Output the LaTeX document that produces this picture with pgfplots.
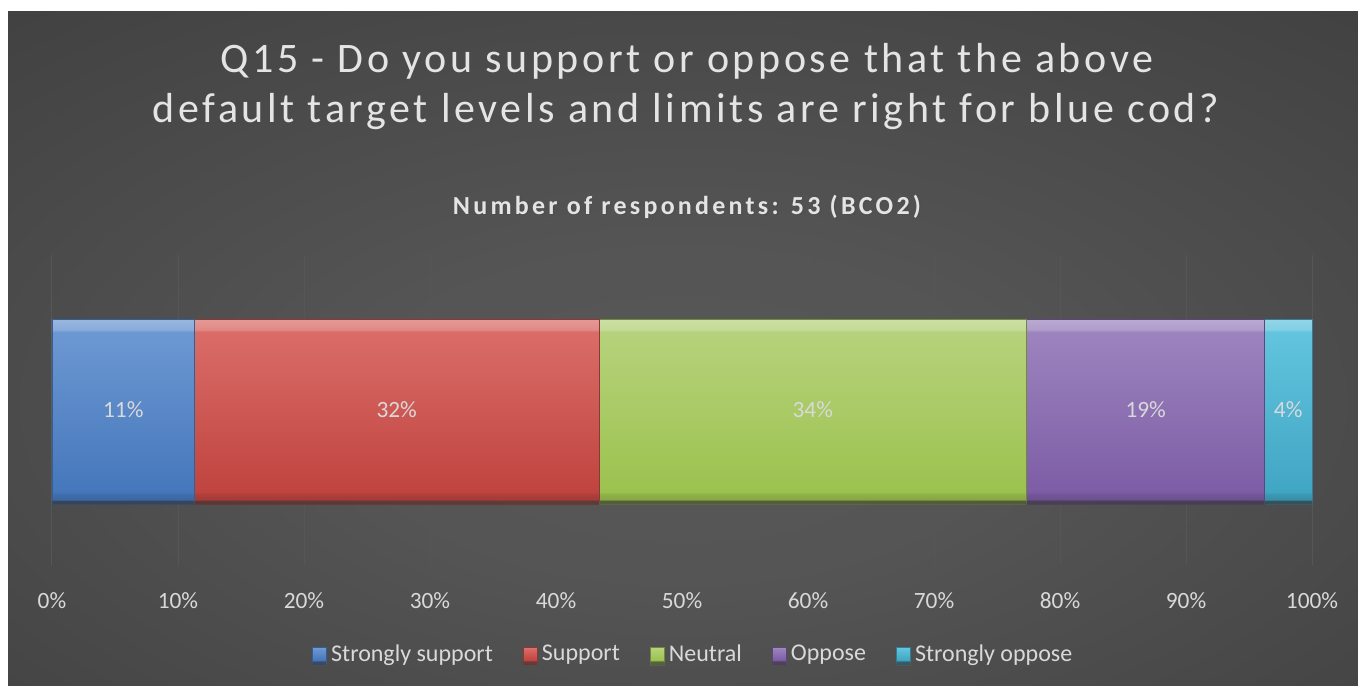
\documentclass[border=0pt]{standalone}
\usepackage{pgfplots}
\pgfplotsset{compat=1.18}
\usetikzlibrary{shadows}
\usepackage{fontspec}
\setmainfont{Carlito}
\newfontfamily\titlefont[LetterSpace=8.6]{Carlito}
\newfontfamily\subfont[LetterSpace=12.5]{Carlito}
\definecolor{bgin}{HTML}{575757}
\definecolor{bgout}{HTML}{262626}
\definecolor{txt}{HTML}{D9D9D9}
\definecolor{ttl}{HTML}{E4E4E4}
\definecolor{gridc}{HTML}{565656}
\definecolor{bluT}{HTML}{6C98D2}\definecolor{bluB}{HTML}{4677BC}\definecolor{bluD}{HTML}{365F91}
\definecolor{redT}{HTML}{DA6C68}\definecolor{redB}{HTML}{C0443F}\definecolor{redD}{HTML}{8C3836}
\definecolor{grnT}{HTML}{B6D27C}\definecolor{grnB}{HTML}{9CC24E}\definecolor{grnD}{HTML}{71893F}
\definecolor{purT}{HTML}{9C84BE}\definecolor{purB}{HTML}{7D5DA6}\definecolor{purD}{HTML}{5C4776}
\definecolor{cyaT}{HTML}{62C4DE}\definecolor{cyaB}{HTML}{41A6C4}\definecolor{cyaD}{HTML}{357D91}
\pgfdeclareradialshading{bgshade}{\pgfpoint{0bp}{-6bp}}{color(0bp)=(bgin); color(12bp)=(bgin!96!bgout); color(74bp)=(bgout)}
% bar shadings: bbox maps to 25bp..75bp
\newcommand\barshade[3]{\pgfdeclareverticalshading{#1}{100bp}{color(0bp)=(#3!85!black); color(25bp)=(#3!85!black); color(26.8bp)=(#3!92!black); color(27.4bp)=(#3); color(71.6bp)=(#2); color(72.2bp)=(#2!80!white); color(75bp)=(#2!70!white); color(100bp)=(#2!70!white)}}
\barshade{blubar}{bluT}{bluB}
\barshade{redbar}{redT}{redB}
\barshade{grnbar}{grnT}{grnB}
\barshade{purbar}{purT}{purB}
\barshade{cyabar}{cyaT}{cyaB}
\pgfplotsset{
  commonaxis/.style={
    at={(39pt,-423.75pt)}, anchor=south west,
    scale only axis, width=945pt, height=232.5pt,
    xmin=0, xmax=100, ymin=-1, ymax=1,
    clip=false,
  }
}
\begin{document}
\begin{tikzpicture}[x=0.75pt,y=-0.75pt]
\fill[white] (0,0) rectangle (1358,685);
\shade[shading=bgshade] (8,12) rectangle (1358,685);
\node[anchor=base, text=ttl, font=\titlefont\fontsize{31.5}{38}\selectfont] at (687,73) {Q15 - Do you support or oppose that the above};
\node[anchor=base, text=ttl, font=\titlefont\fontsize{31.5}{38}\selectfont] at (686,122) {default target levels and limits are right for blue cod?};
\node[anchor=base, text=black!70, opacity=0.6, font=\subfont\bfseries\fontsize{19.5}{23}\selectfont] at (688.5,215.8) {Number of respondents: 53 (BCO2)};
\node[anchor=base, text=ttl, font=\subfont\bfseries\fontsize{19.5}{23}\selectfont] at (687,214.3) {Number of respondents: 53 (BCO2)};
\begin{axis}[
  commonaxis,
  xbar stacked, bar width=135.75pt,
  ytick=\empty,
  xtick={0,10,...,100},
  xticklabel={\pgfmathprintnumber{\tick}\%},
  xmajorgrids, grid style={gridc, line width=0.75pt},
  axis line style={draw=none},
  major tick length=0pt,
  /pgf/number format/assume math mode=true,
  xticklabel style={font=\fontsize{17.5}{21}\selectfont, text=txt, yshift=-17pt},
  legend style={at={(0.51,-0.287)}, anchor=center, legend columns=-1, draw=none, fill=none,
    font=\fontsize{18}{21}\selectfont, text=txt,
    /tikz/every even column/.append style={column sep=19pt},
    nodes={inner sep=3.5pt}},
  legend image code/.code={\draw[#1, line width=0.4pt] (0pt,-5.2pt) rectangle (10.4pt,5.2pt);},
  every axis plot/.append style={drop shadow={shadow xshift=0pt, shadow yshift=-3pt, opacity=0.3, fill=black}},
]
\addplot[draw=bluD, shade, shading=blubar] coordinates {(11.32,0)};
\addplot[draw=redD, shade, shading=redbar] coordinates {(32.08,0)};
\addplot[draw=grnD, shade, shading=grnbar] coordinates {(33.96,0)};
\addplot[draw=purD, shade, shading=purbar] coordinates {(18.87,0)};
\addplot[draw=cyaD, shade, shading=cyabar] coordinates {(3.77,0)};
\legend{Strongly support, Support, Neutral, Oppose, Strongly oppose}
\end{axis}
\begin{axis}[
  commonaxis, hide axis,
  point meta=explicit symbolic,
  nodes near coords,
  every node near coord/.append style={anchor=center, text=txt, font=\fontsize{17.5}{21}\selectfont},
]
\addplot[only marks, mark=none] coordinates {(5.66,0) [11\%] (27.36,0) [32\%] (60.38,0) [34\%] (86.80,0) [19\%] (98.11,0) [4\%]};
\end{axis}
\end{tikzpicture}
\end{document}
